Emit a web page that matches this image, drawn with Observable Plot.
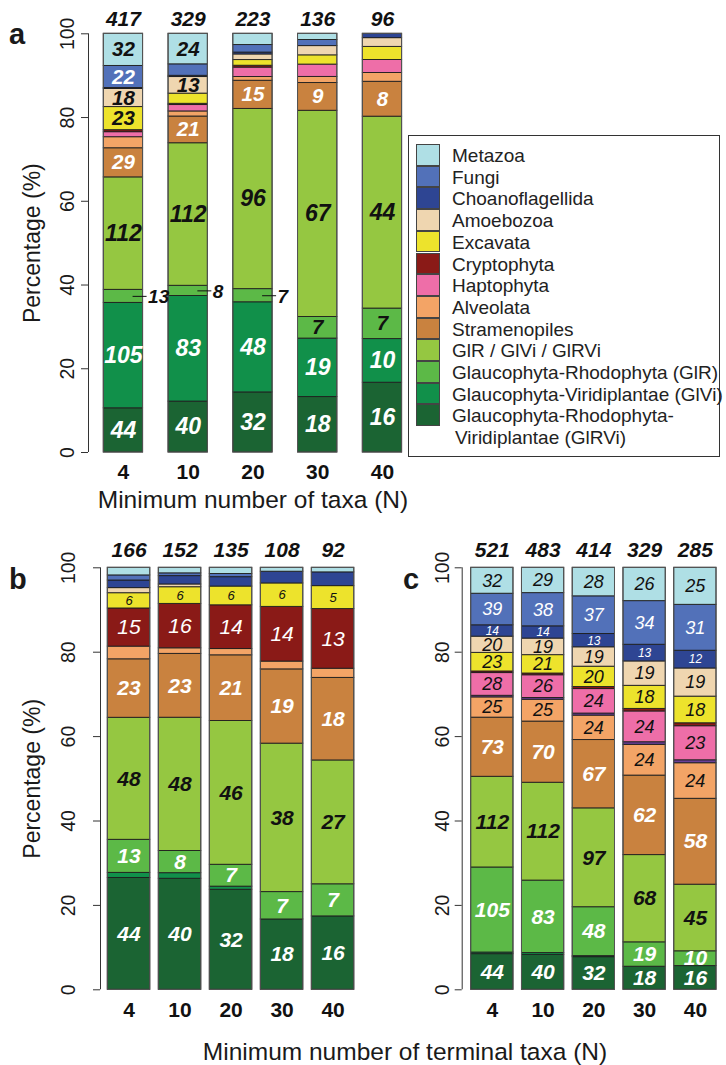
<!DOCTYPE html>
<html><head><meta charset="utf-8">
<script src="https://cdn.jsdelivr.net/npm/d3@7"></script>
<script src="https://cdn.jsdelivr.net/npm/@observablehq/plot@0.6"></script>
<style>
body{margin:0;background:#fff;}
#root{position:relative;width:726px;height:1065px;font-family:"Liberation Sans",Arial,sans-serif;overflow:hidden;color:#1a1a1a}
.abs{position:absolute}
svg{overflow:visible}
</style></head><body><div id="root"></div>
<script>
// ---------- data ----------
const nLabels = ["4","10","20","30","40"];
// stacking order, bottom to top
const catKeys = ["GlRVi","GlVi","GlR","GlR/GlVi/GlRVi","Stramenopiles","Alveolata","Other","Haptophyta","Cryptophyta","Excavata","Amoebozoa","Choanoflagellida","Fungi","Metazoa"];
const catColors = ["#1b6433","#11904a","#5cb947","#95c741","#c9823f","#f3a466","#6b3f98","#ee6ea8","#8a1a17","#ede32c","#efd6b0","#2e4593","#5271b9","#afdfe5"];

const legendNames = ["Metazoa","Fungi","Choanoflagellida","Amoebozoa","Excavata","Cryptophyta","Haptophyta","Alveolata","Stramenopiles","GlR / GlVi / GlRVi","Glaucophyta-Rhodophyta (GlR)","Glaucophyta-Viridiplantae (GlVi)","Glaucophyta-Rhodophyta-\nViridiplantae (GlRVi)"];
const legendKeys = ["Metazoa","Fungi","Choanoflagellida","Amoebozoa","Excavata","Cryptophyta","Haptophyta","Alveolata","Stramenopiles","GlR/GlVi/GlRVi","GlR","GlVi","GlRVi"];

// panel a
const aTotals = [417,329,223,136,96];
const aGlRVi = [44,40,32,18,16];
const aGlVi  = [105,83,48,19,10];
const aGlR   = [13,8,7,7,7];
const aMixed = [112,112,96,67,44];
const aStram = [29,21,15,9,8];
const aAlv   = [11,4,2,2,2];
const aOther = [0,0,0,0,0];
const aHapto = [5,5,5,4,3];
const aCrypto= [2,1,1,0,0];
const aExcav = [23,8,3,3,3];
const aAmoeb = [18,13,3,3,2];
const aChoano= [1,1,1,0,1];
const aFungi = [22,9,4,2,0];
const aMeta  = [32,24,6,2,0];

// panel b
const bTotals = [166,152,135,108,92];
const bGlRVi = [44,40,32,18,16];
const bGlVi  = [2,2,1,0,0];
const bGlR   = [13,8,7,7,7];
const bMixed = [48,48,46,38,27];
const bStram = [23,23,21,19,18];
const bAlv   = [5,2,2,2,2];
const bOther = [0,0,0,0,0];
const bHapto = [0,0,0,0,0];
const bCrypto= [15,16,14,14,13];
const bExcav = [6,6,6,6,5];
const bAmoeb = [2,1,0,0,0];
const bChoano= [3,3,3,3,3];
const bFungi = [2,1,1,0,0];
const bMeta  = [3,2,2,1,1];

// panel c
const cTotals = [521,483,414,329,285];
const cGlRVi = [44,40,32,18,16];
const cGlVi  = [2,2,1,0,0];
const cGlR   = [105,83,48,19,10];
const cMixed = [112,112,97,68,45];
const cStram = [73,70,67,62,58];
const cAlv   = [25,25,24,24,24];
const cOther = [2,2,2,2,2];
const cHapto = [28,26,24,24,23];
const cCrypto= [2,2,2,2,2];
const cExcav = [23,21,20,18,18];
const cAmoeb = [20,19,19,19,19];
const cChoano= [14,14,13,13,12];
const cFungi = [39,38,37,34,31];
const cMeta  = [32,29,28,26,25];

const yTicks = [0,20,40,60,80,100];

// ---------- helpers ----------
function buildRows(series, totals){
  const rows = [];
  nLabels.forEach((n,i)=>{
    let cum = 0;
    catKeys.forEach((k,j)=>{
      const v = series[j][i];
      const pct = v/totals[i]*100;
      if (v>0) rows.push({n, cat:k, count:v, y1:cum, y2:cum+pct, pct, mid:cum+pct/2});
      cum += pct;
    });
  });
  return rows;
}
const labelFont = "'Liberation Sans Narrow','Arial Narrow','Liberation Sans',Arial,sans-serif";
const baseFont = "'Liberation Sans',Arial,sans-serif";

function panel(o){
  const rows = buildRows(o.series, o.totals);
  const W = o.width - o.ml - o.mr;
  const step = W/(nLabels.length - o.pi + 2*o.po);
  const bw = step*(1-o.pi);
  const inside = rows.filter(d => d.pct >= o.threshold && !(o.outsideCat===d.cat && d.pct < o.threshold));
  const outside = rows.filter(d => o.outsideCat===d.cat && d.pct < o.threshold);
  const labelMarks = [];
  for (const bold of [true,false]) for (const white of [true,false]) {
    const sub = inside.filter(d => (o.bold(d.cat)===bold) && (o.white.includes(d.cat)===white));
    if (!sub.length) continue;
    labelMarks.push(Plot.text(sub, {x:"n", y:"mid", text:"count", fill: white?"#ffffff":"#111111",
      fontWeight: bold?"bold":"normal", fontStyle:"italic", fontFamily: labelFont,
      fontSize: d => o.size(d)}));
  }
  const marks = [
    Plot.barY(rows, {x:"n", y1:"y1", y2:"y2", fill:"cat", stroke:"#1e1e1e", strokeWidth:0.9}),
    Plot.barY(nLabels, {x:d=>d, y1:()=>0, y2:()=>100, fill:"none", stroke:"#555", strokeWidth:1}),
    ...labelMarks,
    Plot.ruleX([nLabels[0]], {y1:0, y2:100, dx: -(step*o.po + bw/2), stroke:"#333", strokeWidth:1}),
    Plot.axisY({ticks: yTicks, tickSize: 7, tickFormat: () => "", label: null, stroke:"#333"}),
    Plot.text(yTicks, {y:d=>d, text:d=>String(d), frameAnchor:"left", textAnchor:"middle", lineAnchor:"middle", rotate:-90, dx:o.tickDx, fontSize:19.5, fill:"#1a1a1a", fontFamily: baseFont}),
    Plot.text(nLabels.map((n,i)=>({n, t:o.totals[i]})), {x:"n", text:"t", frameAnchor:"top", lineAnchor:"middle", dy:o.totDy, fontWeight:"bold", fontStyle:"italic", fontSize:21, fill:"#111", fontFamily: baseFont}),
    Plot.text(nLabels, {x:d=>d, text:d=>d, frameAnchor:"bottom", lineAnchor:"middle", dy:20, fontWeight:"bold", fontSize:21, fill:"#111", fontFamily: baseFont})
  ];
  if (outside.length) {
    marks.push(Plot.tickY(outside, {x:"n", y:"mid", insetLeft: bw-14, dx:4, stroke:"#111", strokeWidth:1}));
    marks.push(Plot.text(outside, {x:"n", y:"mid", text:"count", textAnchor:"start", dx: bw/2+5, dy:1, fontWeight:"bold", fontStyle:"italic", fontSize:19, fill:"#111", fontFamily: labelFont}));
  }
  if (o.yTitle) marks.push(Plot.text([o.yTitle], {text:d=>d, frameAnchor:"left", textAnchor:"middle", lineAnchor:"middle", rotate:-90, dx:o.titleDx, fontSize:23, fill:"#1a1a1a", fontFamily: baseFont}));
  if (o.xTitle) marks.push(Plot.text([o.xTitle], {text:d=>d, frameAnchor:"bottom", lineAnchor:"middle", dy:48, fontSize:24.5, fill:"#1a1a1a", fontFamily: baseFont}));
  const svg = Plot.plot({
    width:o.width, height:o.height, marginLeft:o.ml, marginRight:o.mr, marginTop:o.mt, marginBottom:o.mb,
    x:{type:"band", domain:nLabels, paddingInner:o.pi, paddingOuter:o.po, round:false, axis:null},
    y:{domain:[0,100], axis:null},
    color:{domain:catKeys, range:catColors},
    style:{fontFamily: baseFont, overflow:"visible", background:"transparent"},
    marks
  });
  svg.style.position = "absolute";
  svg.style.left = o.left+"px";
  svg.style.top = o.top+"px";
  return svg;
}

const root = document.getElementById("root");

root.appendChild(panel({
  series:[aGlRVi,aGlVi,aGlR,aMixed,aStram,aAlv,aOther,aHapto,aCrypto,aExcav,aAmoeb,aChoano,aFungi,aMeta],
  totals:aTotals, left:0, top:0, width:420, height:515, ml:88, mr:3.1, mt:33.3, mb:63,
  pi:0.393, po:0.236, threshold:3.5, outsideCat:"GlR",
  bold:()=>true, white:["GlRVi","GlVi","Stramenopiles","Fungi"],
  size:d=> d.pct>=9 ? 23 : 20.5,
  tickDx:-21, titleDx:-56, totDy:-15, yTitle:"Percentage (%)", xTitle:"Minimum number of taxa (N)"
}));

root.appendChild(panel({
  series:[bGlRVi,bGlVi,bGlR,bMixed,bStram,bAlv,bOther,bHapto,bCrypto,bExcav,bAmoeb,bChoano,bFungi,bMeta],
  totals:bTotals, left:0, top:520, width:370, height:545, ml:100, mr:8.9, mt:47.3, mb:75.7,
  pi:0.167, po:0.143, threshold:3.5, outsideCat:null,
  bold:c=>["GlRVi","GlVi","GlR","GlR/GlVi/GlRVi","Stramenopiles"].includes(c),
  white:["GlRVi","GlVi","GlR","Stramenopiles","Cryptophyta"],
  size:d=> d.cat==="Excavata" ? 13 : 21,
  tickDx:-32, titleDx:-68, totDy:-18, yTitle:"Percentage (%)", xTitle:null
}));

root.appendChild(panel({
  series:[cGlRVi,cGlVi,cGlR,cMixed,cStram,cAlv,cOther,cHapto,cCrypto,cExcav,cAmoeb,cChoano,cFungi,cMeta],
  totals:cTotals, left:370, top:520, width:356, height:545, ml:91.7, mr:1, mt:47.3, mb:75.7,
  pi:0.167, po:0.177, threshold:2.5, outsideCat:null,
  bold:c=>["GlRVi","GlVi","GlR","GlR/GlVi/GlRVi","Stramenopiles"].includes(c),
  white:["GlRVi","GlVi","GlR","Stramenopiles","Fungi","Choanoflagellida"],
  size:d=> d.cat==="Choanoflagellida" ? 12 : (["GlRVi","GlR","GlR/GlVi/GlRVi","Stramenopiles"].includes(d.cat) ? 21 : 18),
  tickDx:-19, titleDx:-60, totDy:-18, yTitle:null, xTitle:null
}));

// panel letters and shared title
function addText(txt, style){
  const d = document.createElement("div");
  d.className = "abs";
  d.textContent = txt;
  Object.assign(d.style, style);
  root.appendChild(d);
  return d;
}
addText("a", {left:"9px", top:"20px", fontSize:"29px", fontWeight:"bold", lineHeight:"1"});
addText("b", {left:"9px", top:"565px", fontSize:"29px", fontWeight:"bold", lineHeight:"1"});
addText("c", {left:"403px", top:"565px", fontSize:"29px", fontWeight:"bold", lineHeight:"1"});
addText("Minimum number of terminal taxa (N)", {left:"105px", width:"600px", top:"1037px", textAlign:"center", fontSize:"24.5px", lineHeight:"1.2"});

// legend
const leg = document.createElement("div");
leg.className = "abs";
Object.assign(leg.style, {left:"408px", top:"135px", width:"312px", height:"322px", border:"1.3px solid #333", boxSizing:"border-box", background:"#fff"});
root.appendChild(leg);
const rowH = 21.7;
legendNames.forEach((name,i)=>{
  const col = catColors[catKeys.indexOf(legendKeys[i])];
  const sw = document.createElement("div");
  Object.assign(sw.style, {position:"absolute", left:"7px", top:(8+i*rowH)+"px", width:"24px", height:rowH+"px", background:col, border:"1px solid #444", boxSizing:"border-box"});
  leg.appendChild(sw);
  const lines = name.split("\n");
  lines.forEach((ln,k)=>{
    const t = document.createElement("div");
    t.textContent = ln;
    Object.assign(t.style, {position:"absolute", left:(43+(k?3:0))+"px", top:(9+i*rowH+k*rowH)+"px", height:rowH+"px", lineHeight:rowH+"px", fontSize:"19px", whiteSpace:"nowrap", color:"#222"});
    leg.appendChild(t);
  });
});
</script>
</body></html>
